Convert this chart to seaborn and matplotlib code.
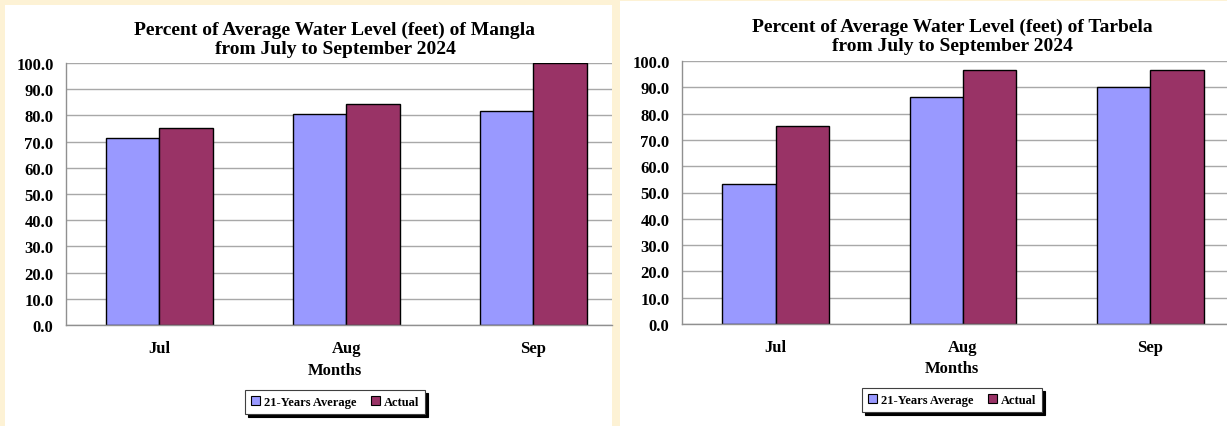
import numpy as np
import pandas as pd
import matplotlib
matplotlib.use('Agg')
import matplotlib.pyplot as plt
import seaborn as sns
from matplotlib.patches import Rectangle, Patch

# 数据
months = ['Jul', 'Aug', 'Sep']
series_names = ['21-Years Average', 'Actual']
mangla_avg = [71.2, 80.4, 81.6]
mangla_actual = [75.2, 84.3, 100.0]
tarbela_avg = [53.1, 86.2, 90.0]
tarbela_actual = [75.1, 96.7, 96.4]
titles = ['Percent of Average Water Level (feet) of Mangla\nfrom July to September 2024',
          'Percent of Average Water Level (feet) of Tarbela\nfrom July to September 2024']
yticks = np.arange(0, 101, 10)

colors = {'21-Years Average': '#9999FF', 'Actual': '#993366'}

sns.set_style('white')
plt.rcParams['font.family'] = ['Liberation Serif', 'DejaVu Serif']
plt.rcParams['font.weight'] = 'bold'
plt.rcParams['text.color'] = 'black'
plt.rcParams['xtick.color'] = 'black'
plt.rcParams['ytick.color'] = 'black'


def make_df(avg, actual):
    rows = []
    for m, a, b in zip(months, avg, actual):
        rows.append({'month': m, 'series': series_names[0], 'value': a})
        rows.append({'month': m, 'series': series_names[1], 'value': b})
    return pd.DataFrame(rows)


fig = plt.figure(figsize=(12.27, 4.27), dpi=100)
fig.patch.set_facecolor('#FDF2D5')

W, H = 1227, 427
# 白色面板
fig.patches.append(Rectangle((5 / W, 0), 607 / W, 421 / H, transform=fig.transFigure,
                             facecolor='white', edgecolor='none', zorder=-5))
fig.patches.append(Rectangle((620 / W, 0), 607 / W, 425 / H, transform=fig.transFigure,
                             facecolor='white', edgecolor='none', zorder=-5))

panels = [
    dict(df=make_df(mangla_avg, mangla_actual), rect=[66 / W, 1 - 326 / H, 546 / W, 262 / H],
         xmax=2.42, title_y=(1 - 40 / H), label_cx=335, months_y=371, leg_y=403),
    dict(df=make_df(tarbela_avg, tarbela_actual), rect=[682 / W, 1 - 325 / H, 545 / W, 263 / H],
         xmax=2.41, title_y=(1 - 37 / H), label_cx=952, months_y=369, leg_y=401),
]

for p, title in zip(panels, titles):
    ax = fig.add_axes(p['rect'])
    ax.set_facecolor('white')
    sns.barplot(data=p['df'], x='month', y='value', hue='series', order=months,
                hue_order=series_names, palette=colors, width=0.57, edgecolor='black',
                linewidth=1.0, saturation=1, ax=ax, legend=False)
    ax.set_ylim(0, 100)
    ax.set_xlim(-0.5, p['xmax'])
    ax.set_yticks(yticks)
    ax.set_yticklabels([f'{v:.1f}' for v in yticks], fontsize=12, fontweight='bold')
    ax.set_xticks(range(len(months)))
    ax.set_xticklabels(months, fontsize=12, fontweight='bold')
    ax.tick_params(axis='x', length=0, pad=11)
    ax.tick_params(axis='y', length=5, color='#909090', pad=4)
    ax.yaxis.grid(True, color='#A8A8A8', linewidth=1)
    ax.set_axisbelow(True)
    for s in ['top', 'right']:
        ax.spines[s].set_visible(False)
    for s in ['left', 'bottom']:
        ax.spines[s].set_color('#909090')
        ax.spines[s].set_linewidth(1)
    ax.set_xlabel('')
    ax.set_ylabel('')

    fig.text(p['label_cx'] / W, p['title_y'], title, ha='center', va='center',
             fontsize=14, fontweight='bold', linespacing=1.15)
    fig.text(p['label_cx'] / W, 1 - p['months_y'] / H, 'Months', ha='center', va='center',
             fontsize=12, fontweight='bold')
    handles = [Patch(facecolor=colors[n], edgecolor='black', linewidth=0.8, label=n)
               for n in series_names]
    leg = fig.legend(handles=handles, loc='center', ncol=2,
                     bbox_to_anchor=(p['label_cx'] / W, 1 - p['leg_y'] / H),
                     frameon=True, fancybox=False, shadow={'color': 'black', 'alpha': 1},
                     handlelength=0.7, handleheight=0.7, handletextpad=0.3, columnspacing=1.2,
                     borderpad=0.5, prop={'weight': 'bold', 'size': 9})
    leg.get_frame().set_edgecolor('#404040')
    leg.get_frame().set_linewidth(0.8)

fig.savefig('out.png', dpi=100, facecolor=fig.get_facecolor())
